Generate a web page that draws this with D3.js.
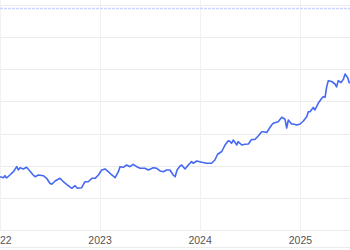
<!DOCTYPE html>
<html>
<head>
<meta charset="utf-8">
<script src="https://cdn.jsdelivr.net/npm/d3@7"></script>
<style>
  body { margin: 0; background: #fff; }
  svg { display: block; }
  text { font-family: "Liberation Sans", Arial, Helvetica, sans-serif; }
</style>
</head>
<body>
<script>
var totalWidth = 350;
var totalHeight = 250;

// price series
var dates = ["2022-01-01","2022-01-13","2022-01-19","2022-01-25","2022-02-06","2022-02-19","2022-03-03","2022-03-09",
  "2022-03-15","2022-03-27","2022-04-08","2022-04-20","2022-05-02","2022-05-09","2022-05-21","2022-06-08",
  "2022-06-20","2022-07-02","2022-07-09","2022-07-21","2022-08-08","2022-08-20","2022-09-01","2022-09-20",
  "2022-10-02","2022-10-10","2022-10-26","2022-11-07","2022-11-19","2022-12-02","2022-12-14","2022-12-26",
  "2023-01-07","2023-01-19","2023-01-31","2023-02-13","2023-02-25","2023-03-09","2023-03-15","2023-03-27",
  "2023-04-08","2023-04-20","2023-05-02","2023-05-15","2023-05-27","2023-06-14","2023-06-26","2023-07-14",
  "2023-07-27","2023-08-08","2023-08-20","2023-09-01","2023-09-13","2023-09-25","2023-10-02","2023-10-09",
  "2023-10-20","2023-10-26","2023-11-07","2023-11-19","2023-12-01","2023-12-07","2023-12-20","2024-01-07",
  "2024-01-25","2024-02-12","2024-02-24","2024-03-05","2024-03-20","2024-04-01","2024-04-13","2024-04-19",
  "2024-04-25","2024-05-01","2024-05-14","2024-05-19","2024-06-01","2024-06-13","2024-06-25","2024-07-07",
  "2024-07-19","2024-07-31","2024-08-13","2024-08-19","2024-08-31","2024-09-18","2024-09-24","2024-09-30",
  "2024-10-12","2024-10-25","2024-11-06","2024-11-12","2024-11-18","2024-11-30","2024-12-06","2024-12-19",
  "2024-12-31","2025-01-12","2025-01-24","2025-01-30","2025-02-05","2025-02-17","2025-02-23","2025-03-07",
  "2025-03-20","2025-03-26","2025-04-01","2025-04-07","2025-04-13","2025-04-25","2025-05-07","2025-05-13",
  "2025-05-19","2025-05-29","2025-06-07","2025-06-13","2025-06-23","2025-06-28","2025-07-01"];

var prices = [182.9,181.4,184.5,180.9,185.6,190.7,198.5,193.3,
  196.9,194.9,197.5,191.8,185.6,182.9,185.6,184.5,
  180.4,172.7,171.1,176.2,180.4,175.1,171.1,164.9,
  168.9,164.9,165.8,175.1,175.1,180.4,180.4,185.6,
  193.3,194.9,190.7,185.6,181.4,190.7,198.5,197.5,
  201.1,198.5,202.2,198.5,196.0,196.0,193.3,196.9,
  196.0,191.8,190.7,193.3,193.3,185.6,182.9,193.3,
  199.6,201.1,194.9,201.1,206.3,203.8,207.3,205.3,
  203.8,203.8,208.9,217.8,222.1,232.2,238.9,237.7,
  234.9,240.0,232.2,237.4,232.2,233.3,233.8,240.8,
  240.8,246.2,252.9,252.9,251.7,263.3,266.0,266.9,
  268.5,275.3,272.2,258.7,271.1,264.9,264.9,263.3,
  264.9,269.6,276.3,284.0,284.0,290.6,286.7,297.1,
  304.9,307.4,306.4,322.9,332.3,331.0,327.1,322.5,
  332.3,329.5,334.4,342.7,336.5,329.2,330.2];

var yearTicks = ["2022-01-01","2023-01-01","2024-01-01","2025-01-01"];
var yTicks = [100,150,200,250,300,350,400,450];
var refLevel = 445;

var parse = d3.timeParse("%Y-%m-%d");
var data = dates.map(function(d, i) { return {date: parse(d), price: prices[i]}; });

var x = d3.scaleTime()
  .domain([parse("2022-01-01"), parse("2025-07-01")])
  .range([0, totalWidth]);
var y = d3.scaleLinear()
  .domain([100, 450])
  .range([230, 5]);

var svg = d3.select("body").append("svg")
  .attr("width", totalWidth)
  .attr("height", totalHeight);

// horizontal grid
svg.append("g")
  .selectAll("line")
  .data(yTicks)
  .enter().append("line")
  .attr("x1", 0).attr("x2", totalWidth)
  .attr("y1", function(d) { return Math.round(y(d)) + 0.5; })
  .attr("y2", function(d) { return Math.round(y(d)) + 0.5; })
  .attr("stroke", "#ebebeb")
  .attr("stroke-width", 1);

// vertical grid
svg.append("g")
  .selectAll("line")
  .data(yearTicks)
  .enter().append("line")
  .attr("x1", function(d) { return Math.round(x(parse(d))) + 0.5; })
  .attr("x2", function(d) { return Math.round(x(parse(d))) + 0.5; })
  .attr("y1", 0).attr("y2", y(100))
  .attr("stroke", "#f1f1f1")
  .attr("stroke-width", 1);

// dashed reference line
svg.append("line")
  .attr("x1", 0).attr("x2", totalWidth)
  .attr("y1", Math.round(y(refLevel)) + 0.5)
  .attr("y2", Math.round(y(refLevel)) + 0.5)
  .attr("stroke", "#c9d4fb")
  .attr("stroke-width", 1.5)
  .attr("stroke-dasharray", "3,1");

// bottom frame line
svg.append("line")
  .attr("x1", 0).attr("x2", totalWidth)
  .attr("y1", 247.5).attr("y2", 247.5)
  .attr("stroke", "#ebebeb");

// year labels
svg.append("g")
  .selectAll("text")
  .data(yearTicks)
  .enter().append("text")
  .attr("x", function(d) { return x(parse(d)); })
  .attr("y", 244)
  .attr("text-anchor", "middle")
  .attr("font-size", "10.5px")
  .attr("fill", "#555")
  .text(function(d) { return d.substring(0, 4); });

var line = d3.line()
  .x(function(d) { return x(d.date); })
  .y(function(d) { return y(d.price); });

svg.append("path")
  .datum(data)
  .attr("fill", "none")
  .attr("stroke", "#4669f2")
  .attr("stroke-width", 1.6)
  .attr("stroke-linejoin", "round")
  .attr("d", line);
</script>
</body>
</html>
